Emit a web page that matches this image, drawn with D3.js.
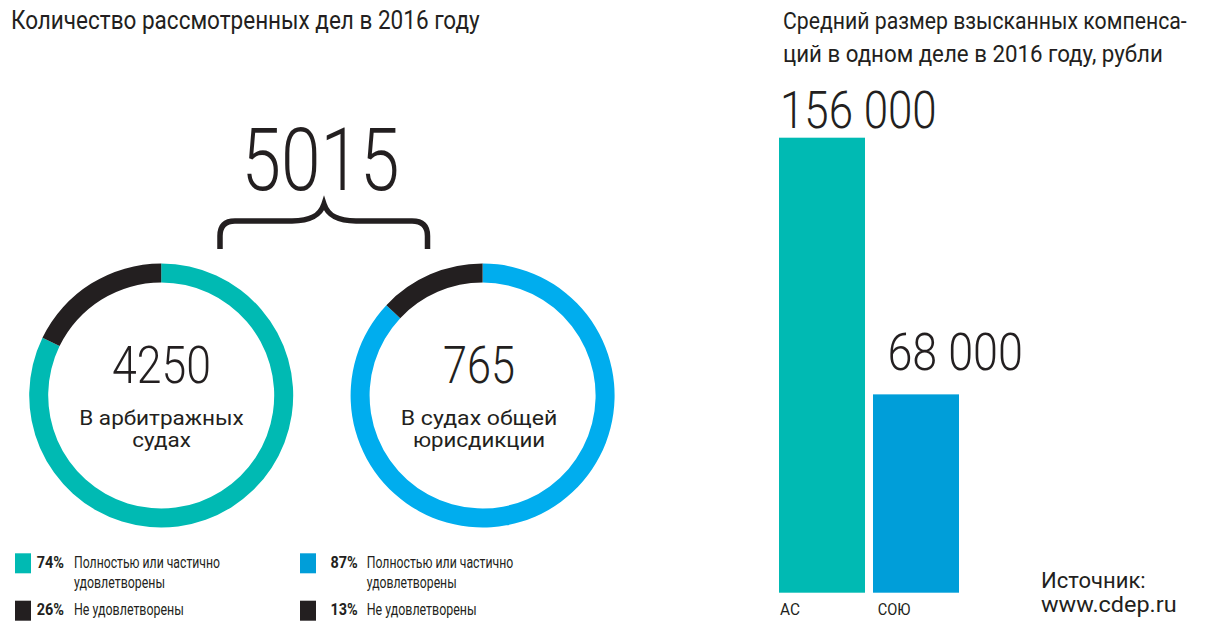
<!DOCTYPE html>
<html><head><meta charset="utf-8">
<script src="https://cdn.jsdelivr.net/npm/d3@7"></script>
<style>
html,body{margin:0;padding:0;background:#fff;}
svg text{font-family:Roboto,"Noto Sans",sans-serif;fill:#231f20;}
</style></head>
<body>
<svg id="c" width="1209" height="630"></svg>
<script>
// ---- data ----
const leftTitle = "Количество рассмотренных дел в 2016 году";
const totalCases = "5015";
const courtCounts = ["4250", "765"];
const courtNames = [["В арбитражных", "судах"], ["В судах общей", "юрисдикции"]];
const satisfiedPct = [74, 87];
const notSatisfiedPct = [26, 13];
// ring split as drawn in the picture (satisfied, not satisfied)
const ringDrawnArbitrazh = [82.2, 17.8];
const ringDrawnGeneral = [87, 13];
const legendLabels = [["Полностью или частично", "удовлетворены"], ["Не удовлетворены"]];

const rightTitle = ["Средний размер взысканных компенса-", "ций в одном деле в 2016 году, рубли"];
const barCategories = ["АС", "СОЮ"];
const barValues = [156000, 68000];
const barValueLabels = ["156 000", "68 000"];
const sourceLines = ["Источник:", "www.cdep.ru"];

// ---- style ----
const TEAL = "#00bab3", BLUE_RING = "#00adee", BLUE = "#009ed9", DARK = "#231f20";
const ringColors = [[TEAL, DARK], [BLUE_RING, DARK]];
const legendColors = [[TEAL, DARK], [BLUE, DARK]];
const barColors = [TEAL, BLUE];

const svg = d3.select("#c");

// text placed at (x,y), horizontally scaled so its width equals opts.len
function txt(g, s, x, y, size, opts = {}) {
  const t = g.append("text").attr("x", 0).attr("y", 0)
    .attr("font-size", size).text(s);
  if (opts.weight) t.attr("font-weight", opts.weight);
  if (opts.anchor) t.attr("text-anchor", opts.anchor);
  let sx = 1;
  if (opts.len) {
    const w = t.node().getComputedTextLength();
    if (w > 0) sx = opts.len / w;
  }
  t.attr("transform", `translate(${x},${y}) scale(${sx},1)`);
  return t;
}

// left title
txt(svg, leftTitle, 11, 28.5, 25, {len: 469});

// total + brace
txt(svg, totalCases, 241.5, 189.5, 88, {weight: 300, len: 158});
svg.append("path")
  .attr("d", "M220,249 L220,236 Q220,221 235,221 L292,221 C310,221 320,216 324,204 C328,216 338,221 356,221 L412,221 Q427.5,221 427.5,236 L427.5,249")
  .attr("fill", "none").attr("stroke", DARK).attr("stroke-width", 5.5);

// donuts
const centers = [[161.2, 395.5], [482.6, 395.5]];
const arc = d3.arc().innerRadius(113).outerRadius(132);
const pie = d3.pie().sort(null).startAngle(0).endAngle(2 * Math.PI);
const ringData = [ringDrawnArbitrazh, ringDrawnGeneral];
const countLen = [99, 72];
const countX = [161.5, 479];
const nameLens = [[164.7, 58.7], [156.7, 132.3]];

ringData.forEach((vals, i) => {
  const g = svg.append("g").attr("transform", `translate(${centers[i][0]},${centers[i][1]})`);
  g.selectAll("path").data(pie(vals)).join("path")
    .attr("d", arc).attr("fill", (d, j) => ringColors[i][j]);
  const tg = svg.append("g");
  txt(tg, courtCounts[i], countX[i], 383, 52, {weight: 300, anchor: "middle", len: countLen[i]});
  courtNames[i].forEach((line, k) => {
    txt(tg, line, countX[i], 425 + k * 22, 20, {anchor: "middle", len: nameLens[i][k]});
  });
});

// legends
const legendX = [15, 300];
const pctRight = [64, 357.7];
const labelX = [74, 366.7];
const labelLens = [[[146, 91], [110]], [[146.6, 90], [110]]];
const rowSquareY = [553.3, 600.7];
const rowBaseline = [[567.5, 587.5], [614.5]];
const pctRows = [satisfiedPct, notSatisfiedPct];
[0, 1].forEach(i => {
  [0, 1].forEach(r => {
    svg.append("rect").attr("x", legendX[i]).attr("y", rowSquareY[r])
      .attr("width", 16).attr("height", 20).attr("fill", legendColors[i][r]);
    txt(svg, pctRows[r][i] + "%", pctRight[i], rowBaseline[r][0], 17, {weight: 700, anchor: "end", len: 27.3});
    legendLabels[r].forEach((line, k) => {
      txt(svg, line, labelX[i], rowBaseline[r][k], 17, {len: labelLens[i][r][k]});
    });
  });
});

// right title
rightTitle.forEach((line, k) => txt(svg, line, 783, 28.5 + k * 33.3, 23.5, {len: k === 0 ? 404 : 380}));

// bars
const x = d3.scaleBand().domain(barCategories).range([779, 959]).paddingInner(8 / 94).paddingOuter(0);
const y = d3.scaleLinear().domain([0, 156000]).range([592.7, 137.7]);
svg.selectAll("rect.bar").data(barValues).join("rect").attr("class", "bar")
  .attr("x", (d, i) => x(barCategories[i])).attr("y", d => y(d))
  .attr("width", x.bandwidth()).attr("height", d => y(0) - y(d))
  .attr("fill", (d, i) => barColors[i]);

const valDx = [1, 14.4], valDy = [9.4, 24], valLen = [156.7, 135.6];
barValues.forEach((v, i) => {
  txt(svg, barValueLabels[i], x(barCategories[i]) + valDx[i], y(v) - valDy[i], 52, {weight: 300, len: valLen[i]});
});
const catDx = [1, 4.7], catLen = [20, 32.7];
barCategories.forEach((c, i) => {
  txt(svg, c, x(c) + catDx[i], 615, 17, {len: catLen[i]});
});

// source
txt(svg, sourceLines[0], 1041, 588.3, 22, {len: 104.7});
txt(svg, sourceLines[1], 1041, 612, 22, {len: 135.7});
</script>
</body></html>
